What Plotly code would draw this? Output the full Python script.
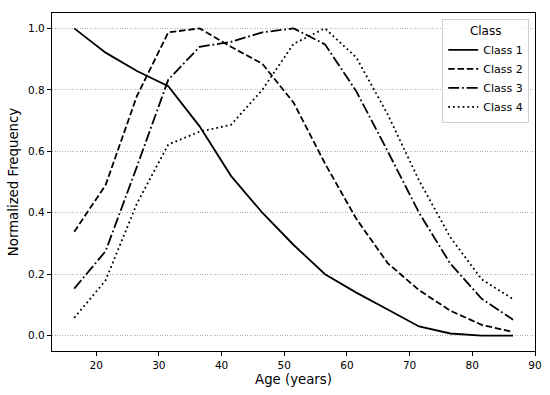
import plotly.graph_objects as go

ages = [16.5, 21.5, 26.5, 31.5, 36.5, 41.5, 46.5, 51.5, 56.5, 61.5, 66.5, 71.5, 76.5, 81.5, 86.5]
class1 = [1.0, 0.921, 0.861, 0.812, 0.681, 0.52, 0.40, 0.295, 0.20, 0.14, 0.085, 0.03, 0.007, 0.0, 0.0]
class2 = [0.338, 0.49, 0.78, 0.987, 1.0, 0.94, 0.885, 0.758, 0.56, 0.38, 0.236, 0.148, 0.081, 0.035, 0.012]
class3 = [0.153, 0.275, 0.55, 0.833, 0.94, 0.956, 0.987, 1.0, 0.948, 0.795, 0.60, 0.40, 0.234, 0.12, 0.052]
class4 = [0.058, 0.18, 0.43, 0.622, 0.664, 0.686, 0.80, 0.95, 1.0, 0.905, 0.72, 0.505, 0.32, 0.183, 0.119]

names = ["Class 1", "Class 2", "Class 3", "Class 4"]
series = [class1, class2, class3, class4]
dashes = ["solid", "6.5px,2.8px", "11px,2.8px,1.8px,2.8px", "1.8px,3px"]

fig = go.Figure()
for name, vals, d in zip(names, series, dashes):
    fig.add_trace(go.Scatter(x=ages, y=vals, mode="lines", name=name,
                             line=dict(color="black", width=1.8, dash=d)))

font = "DejaVu Sans"
fig.update_layout(
    width=550, height=395,
    margin=dict(l=52, r=15, t=13, b=44, autoexpand=False),
    plot_bgcolor="white", paper_bgcolor="white",
    font=dict(family=font, color="black", size=11),
    legend=dict(
        title=dict(text="Class", side="top center", font=dict(size=12)),
        x=0.988, y=0.983, xanchor="right", yanchor="top",
        bgcolor="rgba(255,255,255,0.8)", bordercolor="#d0d0d0", borderwidth=1,
        font=dict(size=11), itemwidth=30, tracegroupgap=0,
    ),
    xaxis=dict(
        range=[12.95, 90.0], tickmode="array", tickvals=[20, 30, 40, 50, 60, 70, 80, 90],
        showgrid=False, zeroline=False, showline=True, linecolor="black", linewidth=1.2,
        mirror=True, ticks="outside", ticklen=4, tickcolor="black", automargin=False,
        title=dict(text="Age (years)", font=dict(size=13.3), standoff=4),
        tickfont=dict(size=10.5),
    ),
    yaxis=dict(
        range=[-0.05, 1.05], tickmode="array", tickvals=[0, 0.2, 0.4, 0.6, 0.8, 1.0],
        ticktext=["0.0", "0.2", "0.4", "0.6", "0.8", "1.0"],
        showgrid=True, gridcolor="#b0b0b0", griddash="1px,1.5px", gridwidth=0.8,
        zeroline=False, showline=True, linecolor="black", linewidth=1.2,
        mirror=True, ticks="outside", ticklen=4, tickcolor="black", automargin=False,
        title=dict(text="Normalized Frequency", font=dict(size=13.3), standoff=6),
        tickfont=dict(size=10.5),
    ),
)

fig.write_html("out.html", config={"displayModeBar": False},
               post_script="document.body.style.margin='0';document.body.style.overflow='hidden';")
